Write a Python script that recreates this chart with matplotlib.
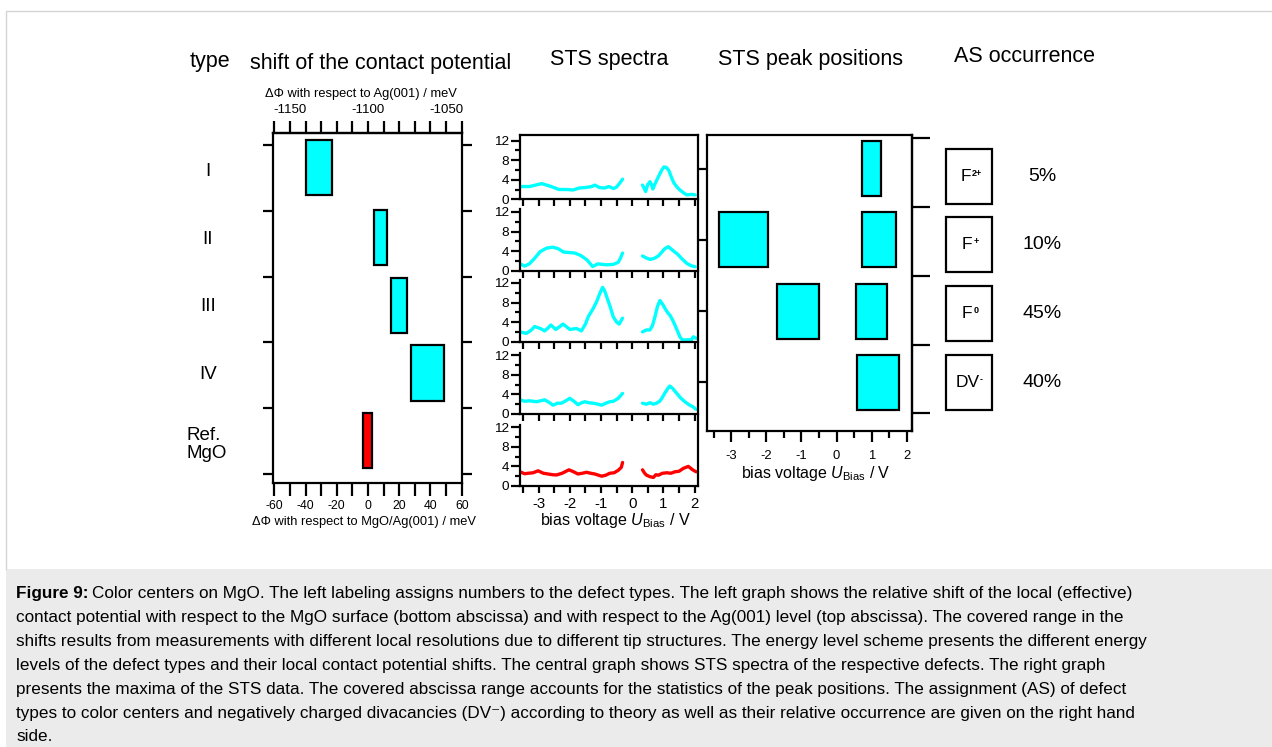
import matplotlib
matplotlib.use("Agg")
import matplotlib.pyplot as plt
import numpy as np
from matplotlib.ticker import MultipleLocator, FixedLocator
from matplotlib.patches import Rectangle
from matplotlib.lines import Line2D
import matplotlib.transforms as mtransforms

plt.rcParams['font.family'] = ['Liberation Sans', 'DejaVu Sans']
plt.rcParams['mathtext.fontset'] = 'custom'
plt.rcParams['mathtext.rm'] = 'Liberation Sans'
plt.rcParams['mathtext.it'] = 'Liberation Sans:italic'
plt.rcParams['mathtext.bf'] = 'Liberation Sans:bold'
plt.rcParams['axes.unicode_minus'] = False

# ---------------- data ----------------
types = ['I', 'II', 'III', 'IV', 'Ref.\nMgO']

# contact potential shift ranges relative to MgO/Ag(001), meV
cp_low = [-40.0, 3.7, 14.5, 27.5, -3.2]
cp_high = [-23.0, 12.0, 24.8, 48.7, 2.5]
cp_colors = ['#00ffff', '#00ffff', '#00ffff', '#00ffff', '#ff0000']
ag_offset = -1100  # Ag(001) reference relative to MgO/Ag(001), meV

# STS spectra (bias / V, dI/dV arb. units), occupied and unoccupied branches
I_neg_v = [-3.6, -3.3, -2.9, -2.6, -2.35, -2.1, -1.9, -1.7, -1.5, -1.3, -1.2, -1.05, -0.9, -0.75, -0.6, -0.5, -0.4, -0.31]
I_neg = [2.6, 2.6, 3.2, 2.6, 2.0, 2.0, 1.9, 2.3, 2.4, 2.6, 2.9, 2.4, 2.3, 2.6, 2.2, 2.5, 3.3, 4.1]
I_pos_v = [0.33, 0.38, 0.43, 0.5, 0.57, 0.62, 0.66, 0.75, 0.84, 0.95, 1.02, 1.1, 1.18, 1.27, 1.34, 1.45, 1.53, 1.65, 1.75, 1.9, 2.02]
I_pos = [2.9, 2.3, 1.6, 3.0, 3.6, 3.0, 2.1, 3.4, 4.6, 6.0, 6.6, 6.5, 5.8, 4.3, 3.3, 2.4, 1.9, 1.3, 0.9, 1.0, 0.9]

II_neg_v = [-3.6, -3.45, -3.3, -3.15, -2.95, -2.75, -2.55, -2.38, -2.2, -2.0, -1.84, -1.65, -1.45, -1.27, -1.1, -0.98, -0.8, -0.6, -0.45, -0.38, -0.31]
II_neg = [1.4, 0.95, 1.4, 2.4, 3.9, 4.6, 4.8, 4.5, 3.8, 3.7, 3.6, 3.1, 2.2, 0.85, 1.4, 1.3, 1.2, 1.3, 1.7, 2.5, 3.6]
II_pos_v = [0.33, 0.45, 0.57, 0.7, 0.84, 0.95, 1.05, 1.16, 1.25, 1.35, 1.45, 1.6, 1.75, 1.9, 2.02]
II_pos = [3.0, 2.6, 2.3, 2.5, 3.0, 3.8, 4.5, 4.9, 4.4, 3.9, 3.4, 2.4, 1.5, 1.0, 0.8]

III_neg_v = [-3.6, -3.4, -3.25, -3.13, -2.95, -2.81, -2.7, -2.61, -2.45, -2.22, -2.0, -1.79, -1.63, -1.5, -1.41, -1.25, -1.14, -1.03, -0.95, -0.88, -0.82, -0.7, -0.61, -0.5, -0.42, -0.31]
III_neg = [2.0, 1.7, 2.3, 3.1, 2.7, 2.2, 2.8, 3.4, 2.5, 3.6, 2.5, 2.7, 2.2, 3.6, 5.1, 6.8, 8.2, 10.0, 11.1, 10.3, 9.2, 7.0, 5.1, 4.0, 3.6, 4.8]
III_pos_v = [0.33, 0.45, 0.57, 0.65, 0.73, 0.81, 0.89, 0.97, 1.05, 1.13, 1.21, 1.29, 1.37, 1.45, 1.53, 1.6, 1.7, 1.8, 1.9, 1.96, 2.05]
III_pos = [2.0, 2.4, 2.4, 3.3, 5.1, 7.2, 8.4, 7.7, 6.8, 6.0, 5.4, 4.5, 3.4, 2.2, 1.0, 0.4, 0.35, 0.4, 0.35, 1.0, 0.7]

IV_neg_v = [-3.6, -3.45, -3.29, -3.07, -2.81, -2.65, -2.54, -2.4, -2.27, -2.13, -2.0, -1.87, -1.74, -1.62, -1.52, -1.4, -1.25, -1.1, -0.98, -0.85, -0.72, -0.6, -0.45, -0.31]
IV_neg = [2.9, 2.6, 2.7, 2.5, 2.9, 2.3, 1.8, 2.2, 2.2, 2.7, 3.2, 2.6, 1.9, 2.3, 2.5, 2.3, 2.2, 2.0, 1.8, 2.2, 2.5, 2.6, 3.2, 4.2]
IV_pos_v = [0.33, 0.45, 0.57, 0.68, 0.78, 0.88, 0.95, 1.05, 1.15, 1.21, 1.3, 1.43, 1.55, 1.69, 1.82, 1.94, 2.05]
IV_pos = [2.2, 2.0, 2.3, 2.0, 2.2, 2.6, 3.2, 4.3, 5.3, 5.7, 5.2, 4.2, 3.3, 2.5, 1.9, 1.5, 0.95]

ref_neg_v = [-3.6, -3.45, -3.34, -3.18, -3.02, -2.85, -2.7, -2.55, -2.43, -2.25, -2.03, -1.88, -1.74, -1.6, -1.47, -1.33, -1.2, -1.08, -0.98, -0.85, -0.72, -0.58, -0.45, -0.35, -0.31]
ref_neg = [2.9, 2.5, 2.6, 2.7, 3.1, 2.6, 2.45, 2.3, 2.25, 2.6, 3.3, 2.9, 2.45, 2.6, 2.8, 2.6, 2.45, 2.2, 2.0, 2.2, 2.6, 2.7, 3.2, 3.8, 4.8]
ref_pos_v = [0.33, 0.4, 0.46, 0.57, 0.68, 0.76, 0.84, 0.97, 1.11, 1.24, 1.37, 1.5, 1.64, 1.8, 1.94, 2.05]
ref_pos = [3.3, 2.6, 2.2, 1.9, 1.75, 2.3, 2.2, 2.6, 2.7, 2.6, 2.9, 3.0, 3.6, 4.0, 3.3, 2.9]

spectra = [
    (I_neg_v, I_neg, I_pos_v, I_pos, '#00ffff'),
    (II_neg_v, II_neg, II_pos_v, II_pos, '#00ffff'),
    (III_neg_v, III_neg, III_pos_v, III_pos, '#00ffff'),
    (IV_neg_v, IV_neg, IV_pos_v, IV_pos, '#00ffff'),
    (ref_neg_v, ref_neg, ref_pos_v, ref_pos, '#ff0000'),
]

# STS peak position ranges (V) per defect type I..IV
peak_rows = [0, 1, 1, 2, 2, 3]
peak_low = [0.73, -3.35, 0.73, -1.71, 0.54, 0.57]
peak_high = [1.27, -1.95, 1.69, -0.50, 1.43, 1.78]

# assignment (base symbol + charge) and relative occurrence
as_base = ['F', 'F', 'F', 'DV']
as_charge = ['2+', '+', '0', '-']
occurrence = [5, 10, 45, 40]

caption_lines = [
    "Color centers on MgO. The left labeling assigns numbers to the defect types. The left graph shows the relative shift of the local (effective)",
    "contact potential with respect to the MgO surface (bottom abscissa) and with respect to the Ag(001) level (top abscissa). The covered range in the",
    "shifts results from measurements with different local resolutions due to different tip structures. The energy level scheme presents the different energy",
    "levels of the defect types and their local contact potential shifts. The central graph shows STS spectra of the respective defects. The right graph",
    "presents the maxima of the STS data. The covered abscissa range accounts for the statistics of the peak positions. The assignment (AS) of defect",
    "types to color centers and negatively charged divacancies (DV\u207b) according to theory as well as their relative occurrence are given on the right hand",
    "side.",
]

# ---------------- layout helpers ----------------
W, H = 1272, 747
fig = plt.figure(figsize=(W / 100, H / 100), dpi=100)


def rect(x0, y0, x1, y1):
    return [x0 / W, 1 - y1 / H, (x1 - x0) / W, (y1 - y0) / H]


def fx(x):
    return x / W


def fy(y):
    return 1 - y / H


LW = 1.6
UBIAS = r'bias voltage $\mathit{U}_{\mathregular{Bias}}$ / V'

# overlay for frame, caption
ov = fig.add_axes([0, 0, 1, 1], zorder=-5)
ov.set_xlim(0, 1)
ov.set_ylim(0, 1)
ov.axis('off')
ov.add_patch(Rectangle((fx(6), 0), 1 - fx(6), fy(569), transform=ov.transAxes,
                       facecolor='#ebebeb', edgecolor='none'))
ov.add_line(Line2D([fx(6), fx(6), 1], [fy(569), fy(11), fy(11)], color='#d4d4d4', lw=1.0))

# ---------------- titles ----------------
TITLE_FS = 15.5
fig.text(fx(210), fy(62), 'type', ha='center', va='center', fontsize=TITLE_FS)
fig.text(fx(380.5), fy(63), 'shift of the contact potential', ha='center', va='center', fontsize=TITLE_FS)
fig.text(fx(609.5), fy(60), 'STS spectra', ha='center', va='center', fontsize=TITLE_FS)
fig.text(fx(810.5), fy(60), 'STS peak positions', ha='center', va='center', fontsize=TITLE_FS)
fig.text(fx(1025), fy(57), 'AS occurrence', ha='center', va='center', fontsize=TITLE_FS)

# ---------------- left panel: contact potential shift ----------------
axL = fig.add_axes(rect(272.7, 133, 461.7, 483))
row_y = [-0.11, 0.955, 1.99, 3.015, 4.04]      # vertical slot of each type
label_y = [-0.045, 0.98, 2.01, 3.04, 4.1]
axL.barh(row_y, np.array(cp_high) - np.array(cp_low), left=cp_low, height=0.84,
         color=cp_colors, edgecolor='black', linewidth=LW)
axL.set_xlim(-61, 60)
axL.set_ylim(4.687, -0.632)
for s in axL.spines.values():
    s.set_linewidth(LW)
axL.xaxis.set_major_locator(MultipleLocator(20))
axL.xaxis.set_minor_locator(MultipleLocator(10))
axL.tick_params(axis='x', which='both', direction='out', length=9, width=LW,
                labelsize=8.8, pad=3)
axL.set_yticks(np.arange(6) - 0.45)
axL.tick_params(axis='y', which='both', direction='out', length=7, width=LW,
                left=True, right=True, labelleft=False, labelright=False)
axL.set_xlabel('\u0394\u03a6 with respect to MgO/Ag(001) / meV', fontsize=9.3, labelpad=3, x=0.483)

secx = axL.secondary_xaxis('top', functions=(lambda x: x + ag_offset, lambda x: x - ag_offset))
secx.set_xticks([-1150, -1100, -1050])
secx.xaxis.set_minor_locator(MultipleLocator(10))
secx.tick_params(axis='x', which='both', direction='out', length=9, width=LW,
                 labelsize=9.5, pad=3)
secx.spines['top'].set_linewidth(LW)
secx.set_xlabel('\u0394\u03a6 with respect to Ag(001) / meV', fontsize=9.3, labelpad=5, x=0.467)

# row labels
trans_rows = mtransforms.blended_transform_factory(fig.transFigure, axL.transData)
for ly, name in zip(label_y, types):
    if '\n' in name:
        fig.text(fx(187), ly, name, transform=trans_rows, ha='left', va='center',
                 fontsize=13.5, linespacing=1.1)
    else:
        fig.text(fx(208), ly, name, transform=trans_rows, ha='center', va='center',
                 fontsize=13.5)

# ---------------- STS spectra ----------------
px_per_unit = 4.9
baselines = [199.3, 270.7, 341.7, 414.0, 486.0]
ytops = [13.1, 12.5, 12.5, 12.5, 12.5]
for i, (nv, ny, pv, py, col) in enumerate(spectra):
    b = baselines[i]
    t = b - ytops[i] * px_per_unit
    ax = fig.add_axes(rect(520, t, 698.3, b))
    ax.patch.set_visible(False)
    ax.plot(nv, ny, color=col, lw=2.4, solid_capstyle='round', solid_joinstyle='round')
    ax.plot(pv, py, color=col, lw=2.4, solid_capstyle='round', solid_joinstyle='round')
    ax.set_xlim(-3.6, 2.12)
    ax.set_ylim(0, ytops[i])
    ax.spines['top'].set_visible(False)
    ax.spines['right'].set_visible(False)
    ax.spines['left'].set_linewidth(LW)
    ax.spines['bottom'].set_linewidth(LW)
    ax.yaxis.set_major_locator(FixedLocator([0, 4, 8, 12]))
    ax.yaxis.set_minor_locator(FixedLocator([2, 6, 10]))
    ax.xaxis.set_major_locator(MultipleLocator(1))
    ax.xaxis.set_minor_locator(MultipleLocator(0.5))
    ax.tick_params(axis='y', which='major', direction='out', length=6.5, width=LW,
                   labelsize=9.7, pad=1.5)
    ax.tick_params(axis='y', which='minor', direction='out', length=3.5, width=LW)
    ax.tick_params(axis='x', which='both', direction='out', length=5, width=LW,
                   labelsize=10.8, pad=3)
    if i < len(spectra) - 1:
        ax.tick_params(axis='x', labelbottom=False)
    else:
        ax.set_xlabel(UBIAS, fontsize=11.6, labelpad=0, x=0.533)

axF = fig.add_axes(rect(520, 135, 698.3, 486))
axF.patch.set_visible(False)
axF.set_xticks([])
axF.set_yticks([])
axF.spines['left'].set_visible(False)
axF.spines['bottom'].set_visible(False)
axF.spines['top'].set_linewidth(LW)
axF.spines['right'].set_linewidth(LW)

# ---------------- STS peak positions ----------------
axR = fig.add_axes(rect(706.7, 135, 911.7, 431))
axR.barh(peak_rows, np.array(peak_high) - np.array(peak_low), left=peak_low, height=0.77,
         color='#00ffff', edgecolor='black', linewidth=LW)
axR.set_xlim(-3.7, 2.14)
axR.set_ylim(3.68, -0.47)
for s in axR.spines.values():
    s.set_linewidth(LW)
axR.xaxis.set_major_locator(MultipleLocator(1))
axR.xaxis.set_minor_locator(MultipleLocator(0.5))
axR.tick_params(axis='x', which='major', direction='out', length=8, width=LW,
                labelsize=9.4, pad=6)
axR.tick_params(axis='x', which='minor', direction='out', length=5, width=LW)
axR.set_yticks([0, 1, 2, 3])
axR.tick_params(axis='y', direction='out', length=6.5, width=LW, labelleft=False)
axR.set_xlabel(UBIAS, fontsize=11.5, labelpad=1, x=0.532)

secy = axR.secondary_yaxis('right')
secy.set_yticks(np.linspace(-0.423, 3.432, 5))
secy.tick_params(axis='y', direction='out', length=13, width=LW, labelright=False)
secy.spines['right'].set_linewidth(LW)

# ---------------- AS and occurrence ----------------
axA = fig.add_axes(rect(930, 138.3, 1100, 413.3))
axA.set_xlim(0, 170)
axA.set_ylim(4, 0)
axA.axis('off')
for i, (base, charge, occ) in enumerate(zip(as_base, as_charge, occurrence)):
    yc = i + 0.55
    axA.add_patch(Rectangle((16, yc - 0.4), 46.3, 0.8, facecolor='white',
                            edgecolor='black', linewidth=LW))
    shift = 3 if len(charge) > 1 else 2
    tb = axA.text(39.2 - shift, yc, base, ha='center', va='center', fontsize=12.5)
    axA.annotate(charge, xy=(1, 1), xycoords=tb, xytext=(0.5, 0), textcoords='offset points',
                 ha='left', va='top', fontsize=6.5, fontweight='bold')
    axA.text(112, yc, f'{occ}%', ha='center', va='center', fontsize=14)

# ---------------- caption ----------------
CAP_FS = 12.3
line_y = [591.7, 616, 640, 664, 688.3, 711.7, 735]
bold = fig.text(fx(16), fy(line_y[0]), 'Figure 9:', fontsize=CAP_FS, fontweight='bold',
                ha='left', va='center_baseline')
fig.canvas.draw()
bb = bold.get_window_extent()
fig.text((bb.x1 + 4) / W, fy(line_y[0]), caption_lines[0], fontsize=CAP_FS,
         ha='left', va='center_baseline')
for yline, txt in zip(line_y[1:], caption_lines[1:]):
    fig.text(fx(16), fy(yline), txt, fontsize=CAP_FS, ha='left', va='center_baseline')

fig.savefig('out.png', dpi=100)
